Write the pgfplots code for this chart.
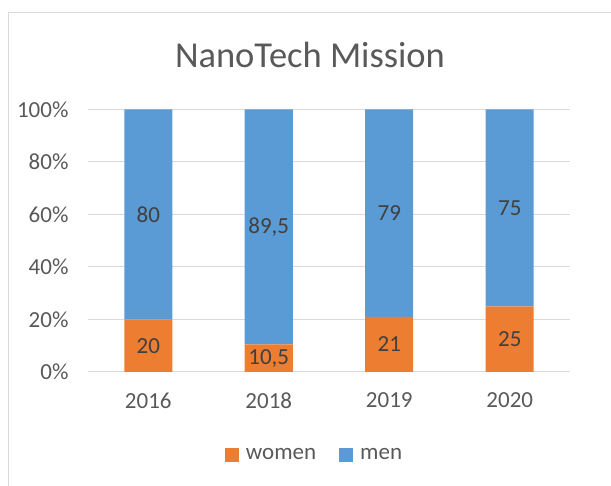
\documentclass[border=0pt]{standalone}
\usepackage{fontspec}
\setmainfont{Carlito}
\usepackage{pgfplots}
\usepackage{pgfplotstable}
\pgfplotsset{compat=1.18}
\definecolor{xlorange}{HTML}{ED7D31}
\definecolor{xlblue}{HTML}{5B9BD5}
\definecolor{xlgrid}{HTML}{D9D9D9}
\definecolor{xltext}{HTML}{595959}
\definecolor{xllabel}{HTML}{404040}
\newcommand{\lblfont}{\fontsize{23}{27}\selectfont}

% share of women / men per year (percent)
\pgfplotstableread{
x women men
0 20   80
1 10.5 89.5
2 21   79
3 25   75
}\shares

% data labels, placed mid-segment
\pgfplotstableread{
x y lab
0 10    20
0 60    80
1 5.25  10,5
1 55.25 89,5
2 10.5  21
2 60.5  79
3 12.5  25
3 62.5  75
}\labels

\pgfplotsset{
  frame/.style={width=482pt, height=262.5pt, scale only axis,
    at={(88pt,114pt)}, anchor=south west,
    xmin=-0.5, xmax=3.5, ymin=0, ymax=100},
  sq legend/.style={legend image code/.code={\fill[##1] (0pt,-7pt) rectangle (14pt,7pt);}},
}

\begin{document}
\begin{tikzpicture}
\path[use as bounding box, clip] (0,0) rectangle (611pt,486pt);
\draw[xlgrid, line width=1pt] (8pt,-10pt) -- (8pt,473pt) -- (630pt,473pt);
\node[anchor=base, text=xltext, font=\fontsize{36.5}{44}\selectfont, inner sep=0pt]
  at (310pt,418pt) {NanoTech Mission};

\begin{axis}[frame,
  ybar stacked, bar width=48pt,
  axis line style={draw=none},
  tick style={draw=none},
  ymajorgrids, grid style={xlgrid, line width=1pt},
  ytick={0,20,...,100},
  yticklabels={0\%,20\%,40\%,60\%,80\%,100\%},
  xtick=data, xticklabels={2016,2018,2019,2020},
  ticklabel style={font=\lblfont, text=xltext},
  yticklabel style={xshift=-16pt},
  xticklabel style={yshift=-17pt},
  legend columns=2,
  legend style={at={(0.47,-0.316)}, anchor=center, draw=none, fill=none,
    font=\lblfont, text=xltext,
    /tikz/every odd column/.append style={column sep=5pt},
    /tikz/every even column/.append style={column sep=21pt}},
]
\addplot[fill=xlorange, draw=none, sq legend] table[x=x, y=women] {\shares};
\addlegendentry{women}
\addplot[fill=xlblue, draw=none, sq legend] table[x=x, y=men] {\shares};
\addlegendentry{men}
\end{axis}

\begin{axis}[frame, hide axis, clip=false]
\addplot[draw=none, mark=none, nodes near coords, point meta=explicit symbolic,
  nodes near coords align={anchor=center},
  every node near coord/.append style={font=\lblfont, text=xllabel, anchor=center}]
  table[x=x, y=y, meta=lab] {\labels};
\end{axis}
\end{tikzpicture}
\end{document}
